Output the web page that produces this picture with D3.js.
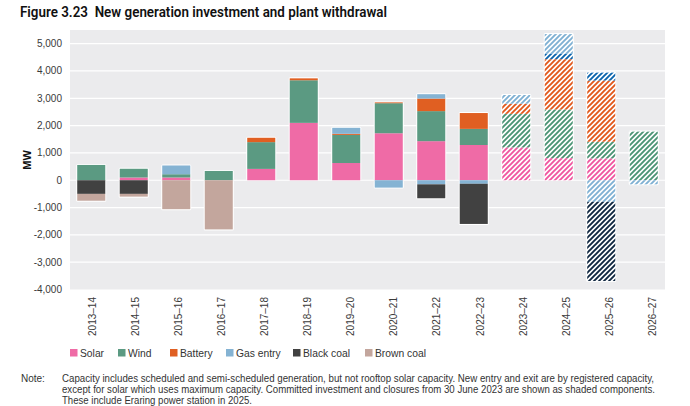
<!DOCTYPE html>
<html><head><meta charset="utf-8">
<script src="https://cdn.jsdelivr.net/npm/d3@7"></script>
<style>
html,body{margin:0;padding:0;background:#fff;}
svg{display:block;font-family:"Liberation Sans",Arial,sans-serif;}
</style></head>
<body><svg id="c" width="690" height="406"></svg>
<script>
const categories = ["2013–14","2014–15","2015–16","2016–17","2017–18","2018–19","2019–20","2020–21","2021–22","2022–23","2023–24","2024–25","2025–26","2026–27"];
const committed = [false,false,false,false,false,false,false,false,false,false,true,true,true,true];
const solar     = [0,100,100,0,415,2100,630,1720,1430,1290,1200,810,800,0];
const wind      = [560,320,120,340,980,1560,1030,1100,1100,590,1230,1780,610,1780];
const battery   = [0,0,0,0,160,70,40,30,460,580,370,1840,2240,0];
const otherEntry= [0,0,0,0,0,0,0,0,0,0,0,210,290,0];
const gasEntry  = [0,0,320,0,0,0,220,0,160,0,320,710,0,0];
const gasExit   = [0,0,0,0,0,0,0,-270,-150,-130,0,0,-790,-150];
const blackCoal = [-500,-500,0,0,0,0,0,0,-510,-1470,0,0,-2900,0];
const brownCoal = [-250,-100,-1060,-1800,0,0,0,0,0,0,0,0,0,0];
const yTicks = [-4000,-3000,-2000,-1000,0,1000,2000,3000,4000,5000];
const legendItems = ["Solar","Wind","Battery","Gas entry","Black coal","Brown coal"];
const noteLines = [
 "Capacity includes scheduled and semi-scheduled generation, but not rooftop solar capacity. New entry and exit are by registered capacity,",
 "except for solar which uses maximum capacity. Committed investment and closures from 30 June 2023 are shown as shaded components.",
 "These include Eraring power station in 2025."];

const series = [
 {key:"solar", vals:solar, color:"#ef6ba6", hatch:"#f0559f"},
 {key:"wind", vals:wind, color:"#5b9a82", hatch:"#4a9474"},
 {key:"battery", vals:battery, color:"#e05f22", hatch:"#e2581c"},
 {key:"other", vals:otherEntry, color:"#0a64ad", hatch:"#0a64ad"},
 {key:"gas", vals:gasEntry, color:"#85b3d3", hatch:"#7eb0d3"},
 {key:"gasExit", vals:gasExit, color:"#85b3d3", hatch:"#7eb0d3"},
 {key:"black", vals:blackCoal, color:"#414141", hatch:"#0f2640"},
 {key:"brown", vals:brownCoal, color:"#c3a69d", hatch:"#c3a69d"}
];
const legendColors = ["#ef6ba6","#5b9a82","#e05f22","#85b3d3","#414141","#c3a69d"];

const svg = d3.select("#c");
const x0=70, x1=665;
const x = d3.scaleBand().domain(categories).range([x0,x1]).paddingInner(0.34).paddingOuter(0.17);
const xl = d3.scalePoint().domain(categories).range([92,652.5]);
const y = d3.scaleLinear().domain([-4000,5500]).range([289.5,30]);

// defs patterns
const defs = svg.append("defs");
series.forEach(s=>{
  const p = defs.append("pattern").attr("id","h_"+s.key).attr("patternUnits","userSpaceOnUse")
    .attr("width",5).attr("height",5);
  p.append("rect").attr("width",5).attr("height",5).attr("fill","#fff");
  p.append("path").attr("d","M-1,1 l2,-2 M0,5 l5,-5 M4,6 l2,-2")
    .attr("stroke",s.hatch).attr("stroke-width",1.9).attr("fill","none");
});

// title
svg.append("text").attr("x",20).attr("y",17).attr("font-size",14).attr("font-weight",600)
  .attr("font-family","Roboto, 'Liberation Sans', sans-serif").attr("fill","#111")
  .attr("textLength",367).attr("lengthAdjust","spacingAndGlyphs")
  .text("Figure 3.23\u00a0\u00a0New generation investment and plant withdrawal");

// plot bg
svg.append("rect").attr("x",x0).attr("y",y(5500)).attr("width",x1-x0).attr("height",y(-4000)-y(5500)).attr("fill","#ebebed");

// grid
svg.append("g").selectAll("line").data(yTicks.filter(t=>t>-4000)).join("line")
  .attr("x1",x0).attr("x2",x1).attr("y1",d=>y(d)).attr("y2",d=>y(d))
  .attr("stroke","#fff").attr("stroke-width",1.2);

// y axis labels
const fmt = d=> (d<0?"-":"") + d3.format(",")(Math.abs(d));
svg.append("g").selectAll("text").data(yTicks).join("text")
  .attr("x",62).attr("y",d=>y(d)).attr("dy","0.35em").attr("text-anchor","end")
  .attr("font-size",10).attr("fill","#3a3a3a").text(fmt);
svg.append("text").attr("transform","translate(31,160) rotate(-90)").attr("text-anchor","middle")
  .attr("font-size",11).attr("font-weight","bold").attr("fill","#111").text("MW");

// stack
const table = categories.map((c,i)=>{const o={cat:c,i:i}; series.forEach(s=>o[s.key]=s.vals[i]); return o;});
const stack = d3.stack().keys(series.map(s=>s.key)).offset(d3.stackOffsetDiverging);
const stacked = stack(table);

// white backing per column
const posTot = table.map(d=>d3.sum(series,s=>Math.max(0,d[s.key])));
const negTot = table.map(d=>d3.sum(series,s=>Math.min(0,d[s.key])));
svg.append("g").selectAll("rect").data(table.filter((d,i)=>posTot[i]>0)).join("rect")
  .attr("x",d=>x(d.cat)-1).attr("width",x.bandwidth()+2)
  .attr("y",d=>y(posTot[d.i])-1).attr("height",d=>y(0)-y(posTot[d.i])+1)
  .attr("fill","#fff").attr("rx",1.5);
svg.append("g").selectAll("rect").data(table.filter((d,i)=>negTot[i]<0)).join("rect")
  .attr("x",d=>x(d.cat)-1).attr("width",x.bandwidth()+2)
  .attr("y",y(0)).attr("height",d=>y(negTot[d.i])-y(0)+1)
  .attr("fill","#fff").attr("rx",1.5);

const g = svg.append("g");
stacked.forEach((layer,li)=>{
  const s = series[li];
  g.append("g").selectAll("rect").data(layer.filter(d=>d[1]!==d[0])).join("rect")
   .attr("x",d=>x(d.data.cat)).attr("width",x.bandwidth())
   .attr("y",d=>y(Math.max(d[0],d[1]))).attr("height",d=>Math.abs(y(d[0])-y(d[1])))
   .attr("fill",d=>committed[d.data.i] ? "url(#h_"+s.key+")" : s.color);
});

// x labels
svg.append("g").selectAll("text").data(categories).join("text")
  .attr("transform",d=>`translate(${xl(d)},297) rotate(-90)`).attr("dy","0.35em")
  .attr("text-anchor","end").attr("font-size",10).attr("fill","#3a3a3a").text(d=>d);

// legend
const legX = [70,118,170,226,293,365];
const lg = svg.append("g");
legendItems.forEach((t,i)=>{
  lg.append("rect").attr("x",legX[i]).attr("y",349).attr("width",7.5).attr("height",7.5).attr("fill",legendColors[i]);
  lg.append("text").attr("x",legX[i]+10).attr("y",353).attr("dy","0.35em").attr("font-size",10.3).attr("fill","#333").text(t);
});

// note
svg.append("text").attr("x",21).attr("y",382).attr("font-size",10).attr("fill","#333").text("Note:");
const noteLens=[592,593,190];
noteLines.forEach((t,i)=>{
  svg.append("text").attr("x",62).attr("y",382+i*11).attr("font-size",10).attr("fill","#333")
    .attr("textLength",noteLens[i]).attr("lengthAdjust","spacingAndGlyphs").text(t);
});
</script></body></html>
